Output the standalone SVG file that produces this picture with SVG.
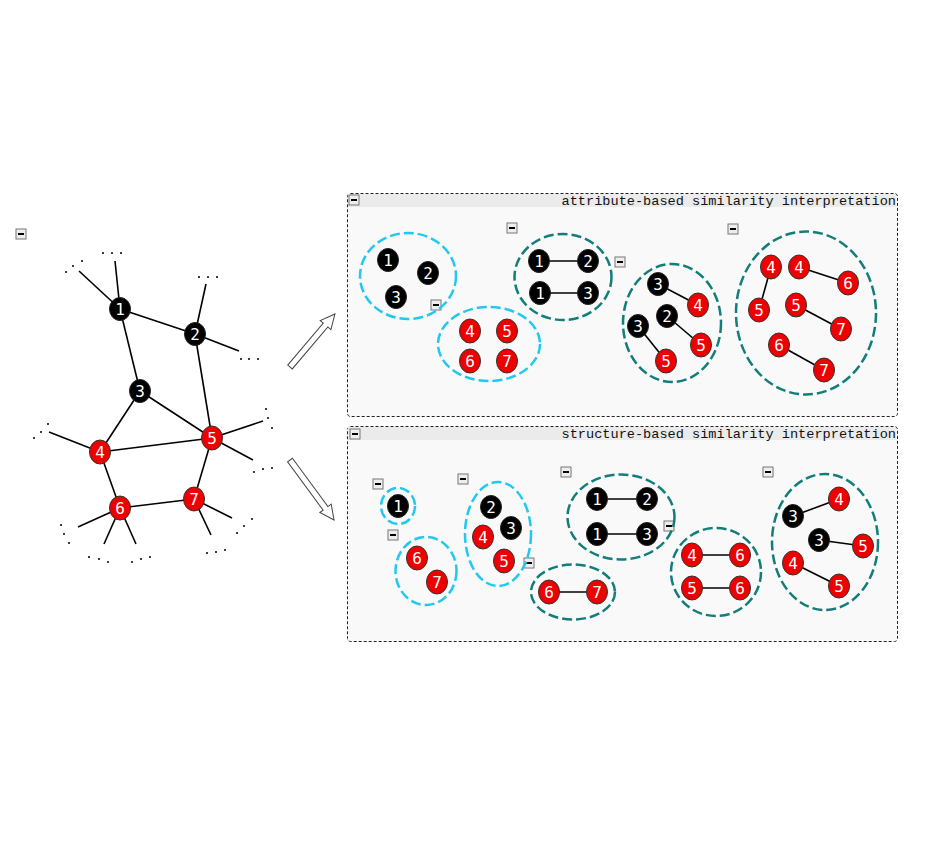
<svg xmlns="http://www.w3.org/2000/svg" width="944" height="844" viewBox="0 0 944 844">
<defs>
<style>
.b{fill:#000;stroke:#222;stroke-width:1}
.r{fill:#ee0000;stroke:#333;stroke-width:1}
.t{fill:#fff;font-family:"DejaVu Sans Mono",monospace;font-size:16px;text-anchor:middle;dominant-baseline:central}
.e{stroke:#000;stroke-width:1.6;fill:none}
.cy{fill:none;stroke:#22c8f0;stroke-width:2.5;stroke-dasharray:10 4}
.tl{fill:none;stroke:#137d7a;stroke-width:2.5;stroke-dasharray:10 4}
.panel{fill:#f9f9f9;stroke:#222;stroke-width:1;stroke-dasharray:3 2}
.bar{fill:#ebebeb}
.title{font-family:"Liberation Mono",monospace;font-size:13.6px;fill:#111;text-anchor:end}
.arrow{fill:#fff;stroke:#444;stroke-width:1}
.dot{fill:#000}
</style>
<g id="mi">
<rect x="-5" y="-5" width="10" height="10" fill="#eee" stroke="#777" stroke-width="1"/>
<rect x="-3" y="-1" width="6" height="2" fill="#000"/>
</g>
</defs>
<rect width="944" height="844" fill="#fff"/>

<!-- panels -->
<g id="panel-attr">
<rect class="panel" x="347.5" y="193.5" width="550" height="223" rx="3"/>
<rect class="bar" x="348" y="194" width="548" height="13"/>
<text class="title" x="896" y="204.5">attribute-based similarity interpretation</text>
</g>
<g id="panel-struct">
<rect class="panel" x="347.5" y="426.5" width="550" height="215" rx="3"/>
<rect class="bar" x="348" y="427" width="548" height="13"/>
<text class="title" x="896" y="437.5">structure-based similarity interpretation</text>
</g>

<!-- minus icons -->
<g id="icons">
<use href="#mi" x="21" y="234"/>
<use href="#mi" x="354" y="200"/>
<use href="#mi" x="512" y="228"/>
<use href="#mi" x="436" y="305"/>
<use href="#mi" x="620" y="262"/>
<use href="#mi" x="733" y="229"/>
<use href="#mi" x="355" y="434"/>
<use href="#mi" x="378" y="484"/>
<use href="#mi" x="393" y="535"/>
<use href="#mi" x="463" y="479"/>
<use href="#mi" x="529" y="563"/>
<use href="#mi" x="566" y="472"/>
<use href="#mi" x="669" y="526"/>
<use href="#mi" x="768" y="472"/>
</g>

<!-- arrows -->
<g id="arrows">
<polygon class="arrow" transform="translate(290,367) rotate(-49.7)" points="0,-3 55,-3 55,-7 69.5,0 55,7 55,3 0,3"/>
<polygon class="arrow" transform="translate(290,460) rotate(53.7)" points="0,-3 60,-3 60,-7 74.4,0 60,7 60,3 0,3"/>
</g>

<!-- cluster ellipses -->
<g id="clusters">
<ellipse class="cy" cx="408" cy="276" rx="48" ry="43"/>
<ellipse class="cy" cx="489" cy="344" rx="51" ry="37"/>
<ellipse class="tl" cx="563" cy="277" rx="48.5" ry="43"/>
<ellipse class="tl" cx="672" cy="323" rx="49" ry="59"/>
<ellipse class="tl" cx="806" cy="313" rx="70" ry="81.5"/>
<ellipse class="cy" cx="398" cy="506" rx="17" ry="18"/>
<ellipse class="cy" cx="426" cy="571" rx="30.5" ry="34"/>
<ellipse class="cy" cx="498" cy="534" rx="33" ry="52"/>
<ellipse class="tl" cx="573" cy="592" rx="42" ry="27.5"/>
<ellipse class="tl" cx="621" cy="517" rx="53.5" ry="42.5"/>
<ellipse class="tl" cx="716" cy="572" rx="45" ry="44"/>
<ellipse class="tl" cx="825" cy="542" rx="53" ry="68"/>
</g>

<!-- connectors -->
<g id="connectors">
<!-- main graph -->
<line class="e" x1="120" y1="309" x2="195" y2="334"/>
<line class="e" x1="120" y1="309" x2="140" y2="391"/>
<line class="e" x1="195" y1="334" x2="212" y2="438"/>
<line class="e" x1="140" y1="391" x2="100" y2="452"/>
<line class="e" x1="140" y1="391" x2="212" y2="438"/>
<line class="e" x1="100" y1="452" x2="212" y2="438"/>
<line class="e" x1="100" y1="452" x2="120" y2="508"/>
<line class="e" x1="212" y1="438" x2="194" y2="499"/>
<line class="e" x1="120" y1="508" x2="194" y2="499"/>
<!-- stubs -->
<line class="e" x1="120" y1="309" x2="115" y2="261"/>
<line class="e" x1="120" y1="309" x2="79" y2="271"/>
<line class="e" x1="195" y1="334" x2="206" y2="284"/>
<line class="e" x1="195" y1="334" x2="239" y2="351"/>
<line class="e" x1="100" y1="452" x2="49" y2="432"/>
<line class="e" x1="212" y1="438" x2="263" y2="421"/>
<line class="e" x1="212" y1="438" x2="253" y2="460"/>
<line class="e" x1="120" y1="508" x2="78" y2="527"/>
<line class="e" x1="120" y1="508" x2="104" y2="544"/>
<line class="e" x1="120" y1="508" x2="136" y2="544"/>
<line class="e" x1="194" y1="499" x2="211" y2="535"/>
<line class="e" x1="194" y1="499" x2="232" y2="518"/>
<!-- top panel -->
<line class="e" x1="539" y1="261" x2="588" y2="261"/>
<line class="e" x1="540" y1="293" x2="588" y2="293"/>
<line class="e" x1="658" y1="284" x2="698" y2="305"/>
<line class="e" x1="667" y1="316" x2="701" y2="345"/>
<line class="e" x1="638" y1="326" x2="666" y2="361"/>
<line class="e" x1="771" y1="267" x2="759" y2="310"/>
<line class="e" x1="799" y1="267" x2="848" y2="283"/>
<line class="e" x1="796" y1="305" x2="841" y2="329"/>
<line class="e" x1="779" y1="345" x2="824" y2="370"/>
<!-- bottom panel -->
<line class="e" x1="549" y1="592" x2="597" y2="592"/>
<line class="e" x1="597" y1="499" x2="647" y2="499"/>
<line class="e" x1="597" y1="534" x2="647" y2="534"/>
<line class="e" x1="692" y1="555" x2="740" y2="555"/>
<line class="e" x1="692" y1="588" x2="740" y2="588"/>
<line class="e" x1="793" y1="516" x2="839" y2="499"/>
<line class="e" x1="819" y1="540" x2="863" y2="546"/>
<line class="e" x1="793" y1="563" x2="839" y2="586"/>
</g>

<!-- ellipsis dots -->
<g id="dots">
<circle class="dot" cx="103" cy="253" r="1"/><circle class="dot" cx="112" cy="253" r="1"/><circle class="dot" cx="121" cy="253" r="1"/>
<circle class="dot" cx="66" cy="272" r="1"/><circle class="dot" cx="73" cy="266" r="1"/><circle class="dot" cx="82" cy="261" r="1"/>
<circle class="dot" cx="199" cy="277" r="1"/><circle class="dot" cx="208" cy="277" r="1"/><circle class="dot" cx="217" cy="277" r="1"/>
<circle class="dot" cx="241" cy="359" r="1"/><circle class="dot" cx="249" cy="359" r="1"/><circle class="dot" cx="258" cy="359" r="1"/>
<circle class="dot" cx="34" cy="438" r="1"/><circle class="dot" cx="41" cy="432" r="1"/><circle class="dot" cx="48" cy="424" r="1"/>
<circle class="dot" cx="266" cy="409" r="1"/><circle class="dot" cx="268" cy="418" r="1"/><circle class="dot" cx="272" cy="428" r="1"/>
<circle class="dot" cx="254" cy="472" r="1"/><circle class="dot" cx="263" cy="469" r="1"/><circle class="dot" cx="272" cy="468" r="1"/>
<circle class="dot" cx="61" cy="525" r="1"/><circle class="dot" cx="64" cy="534" r="1"/><circle class="dot" cx="69" cy="543" r="1"/>
<circle class="dot" cx="89" cy="557" r="1"/><circle class="dot" cx="99" cy="559" r="1"/><circle class="dot" cx="108" cy="562" r="1"/>
<circle class="dot" cx="132" cy="562" r="1"/><circle class="dot" cx="141" cy="559" r="1"/><circle class="dot" cx="150" cy="557" r="1"/>
<circle class="dot" cx="237" cy="533" r="1"/><circle class="dot" cx="244" cy="526" r="1"/><circle class="dot" cx="252" cy="519" r="1"/>
<circle class="dot" cx="207" cy="553" r="1"/><circle class="dot" cx="216" cy="552" r="1"/><circle class="dot" cx="225" cy="550" r="1"/>
</g>

<!-- main graph nodes -->
<g id="g-n1"><ellipse class="b" cx="120" cy="309" rx="10.5" ry="11.5"/><text class="t" x="120" y="309">1</text></g>
<g id="g-n2"><ellipse class="b" cx="195" cy="334" rx="10.5" ry="11.5"/><text class="t" x="195" y="334">2</text></g>
<g id="g-n3"><ellipse class="b" cx="140" cy="391" rx="10.5" ry="11.5"/><text class="t" x="140" y="391">3</text></g>
<g id="g-n4"><ellipse class="r" cx="100" cy="452" rx="10.5" ry="12"/><text class="t" x="100" y="452">4</text></g>
<g id="g-n5"><ellipse class="r" cx="212" cy="438" rx="10.5" ry="12"/><text class="t" x="212" y="438">5</text></g>
<g id="g-n6"><ellipse class="r" cx="120" cy="508" rx="10.5" ry="12"/><text class="t" x="120" y="508">6</text></g>
<g id="g-n7"><ellipse class="r" cx="194" cy="499" rx="10.5" ry="12"/><text class="t" x="194" y="499">7</text></g>

<!-- top panel nodes -->
<g id="a1-n1"><ellipse class="b" cx="388" cy="260" rx="10.5" ry="11.5"/><text class="t" x="388" y="260">1</text></g>
<g id="a1-n2"><ellipse class="b" cx="428" cy="273" rx="10.5" ry="11.5"/><text class="t" x="428" y="273">2</text></g>
<g id="a1-n3"><ellipse class="b" cx="396" cy="297" rx="10.5" ry="11.5"/><text class="t" x="396" y="297">3</text></g>
<g id="a2-n4"><ellipse class="r" cx="470" cy="331" rx="10.5" ry="12"/><text class="t" x="470" y="331">4</text></g>
<g id="a2-n5"><ellipse class="r" cx="507" cy="331" rx="10.5" ry="12"/><text class="t" x="507" y="331">5</text></g>
<g id="a2-n6"><ellipse class="r" cx="470" cy="361" rx="10.5" ry="12"/><text class="t" x="470" y="361">6</text></g>
<g id="a2-n7"><ellipse class="r" cx="507" cy="361" rx="10.5" ry="12"/><text class="t" x="507" y="361">7</text></g>
<g id="a3-n1a"><ellipse class="b" cx="539" cy="261" rx="10.5" ry="11.5"/><text class="t" x="539" y="261">1</text></g>
<g id="a3-n2"><ellipse class="b" cx="588" cy="261" rx="10.5" ry="11.5"/><text class="t" x="588" y="261">2</text></g>
<g id="a3-n1b"><ellipse class="b" cx="540" cy="293" rx="10.5" ry="11.5"/><text class="t" x="540" y="293">1</text></g>
<g id="a3-n3"><ellipse class="b" cx="588" cy="293" rx="10.5" ry="11.5"/><text class="t" x="588" y="293">3</text></g>
<g id="a4-n3a"><ellipse class="b" cx="658" cy="284" rx="10.5" ry="11.5"/><text class="t" x="658" y="284">3</text></g>
<g id="a4-n4"><ellipse class="r" cx="698" cy="305" rx="10.5" ry="12"/><text class="t" x="698" y="305">4</text></g>
<g id="a4-n2"><ellipse class="b" cx="667" cy="316" rx="10.5" ry="11.5"/><text class="t" x="667" y="316">2</text></g>
<g id="a4-n3b"><ellipse class="b" cx="638" cy="326" rx="10.5" ry="11.5"/><text class="t" x="638" y="326">3</text></g>
<g id="a4-n5a"><ellipse class="r" cx="701" cy="345" rx="10.5" ry="12"/><text class="t" x="701" y="345">5</text></g>
<g id="a4-n5b"><ellipse class="r" cx="666" cy="361" rx="10.5" ry="12"/><text class="t" x="666" y="361">5</text></g>
<g id="a5-n4a"><ellipse class="r" cx="771" cy="267" rx="10.5" ry="12"/><text class="t" x="771" y="267">4</text></g>
<g id="a5-n4b"><ellipse class="r" cx="799" cy="267" rx="10.5" ry="12"/><text class="t" x="799" y="267">4</text></g>
<g id="a5-n6a"><ellipse class="r" cx="848" cy="283" rx="10.5" ry="12"/><text class="t" x="848" y="283">6</text></g>
<g id="a5-n5a"><ellipse class="r" cx="759" cy="310" rx="10.5" ry="12"/><text class="t" x="759" y="310">5</text></g>
<g id="a5-n5b"><ellipse class="r" cx="796" cy="305" rx="10.5" ry="12"/><text class="t" x="796" y="305">5</text></g>
<g id="a5-n7a"><ellipse class="r" cx="841" cy="329" rx="10.5" ry="12"/><text class="t" x="841" y="329">7</text></g>
<g id="a5-n6b"><ellipse class="r" cx="779" cy="345" rx="10.5" ry="12"/><text class="t" x="779" y="345">6</text></g>
<g id="a5-n7b"><ellipse class="r" cx="824" cy="370" rx="10.5" ry="12"/><text class="t" x="824" y="370">7</text></g>

<!-- bottom panel nodes -->
<g id="b1-n1"><ellipse class="b" cx="398" cy="506" rx="10.5" ry="11.5"/><text class="t" x="398" y="506">1</text></g>
<g id="b2-n6"><ellipse class="r" cx="417" cy="558" rx="10.5" ry="12"/><text class="t" x="417" y="558">6</text></g>
<g id="b2-n7"><ellipse class="r" cx="437" cy="582" rx="10.5" ry="12"/><text class="t" x="437" y="582">7</text></g>
<g id="b3-n2"><ellipse class="b" cx="491" cy="507" rx="10.5" ry="11.5"/><text class="t" x="491" y="507">2</text></g>
<g id="b3-n3"><ellipse class="b" cx="511" cy="528" rx="10.5" ry="11.5"/><text class="t" x="511" y="528">3</text></g>
<g id="b3-n4"><ellipse class="r" cx="483" cy="537" rx="10.5" ry="12"/><text class="t" x="483" y="537">4</text></g>
<g id="b3-n5"><ellipse class="r" cx="504" cy="561" rx="10.5" ry="12"/><text class="t" x="504" y="561">5</text></g>
<g id="b4-n6"><ellipse class="r" cx="549" cy="592" rx="10.5" ry="12"/><text class="t" x="549" y="592">6</text></g>
<g id="b4-n7"><ellipse class="r" cx="597" cy="592" rx="10.5" ry="12"/><text class="t" x="597" y="592">7</text></g>
<g id="b5-n1a"><ellipse class="b" cx="597" cy="499" rx="10.5" ry="11.5"/><text class="t" x="597" y="499">1</text></g>
<g id="b5-n2"><ellipse class="b" cx="647" cy="499" rx="10.5" ry="11.5"/><text class="t" x="647" y="499">2</text></g>
<g id="b5-n1b"><ellipse class="b" cx="597" cy="534" rx="10.5" ry="11.5"/><text class="t" x="597" y="534">1</text></g>
<g id="b5-n3"><ellipse class="b" cx="647" cy="534" rx="10.5" ry="11.5"/><text class="t" x="647" y="534">3</text></g>
<g id="b6-n4"><ellipse class="r" cx="692" cy="555" rx="10.5" ry="12"/><text class="t" x="692" y="555">4</text></g>
<g id="b6-n6a"><ellipse class="r" cx="740" cy="555" rx="10.5" ry="12"/><text class="t" x="740" y="555">6</text></g>
<g id="b6-n5"><ellipse class="r" cx="692" cy="588" rx="10.5" ry="12"/><text class="t" x="692" y="588">5</text></g>
<g id="b6-n6b"><ellipse class="r" cx="740" cy="588" rx="10.5" ry="12"/><text class="t" x="740" y="588">6</text></g>
<g id="b7-n4a"><ellipse class="r" cx="839" cy="499" rx="10.5" ry="12"/><text class="t" x="839" y="499">4</text></g>
<g id="b7-n3a"><ellipse class="b" cx="793" cy="516" rx="10.5" ry="11.5"/><text class="t" x="793" y="516">3</text></g>
<g id="b7-n3b"><ellipse class="b" cx="819" cy="540" rx="10.5" ry="11.5"/><text class="t" x="819" y="540">3</text></g>
<g id="b7-n5a"><ellipse class="r" cx="863" cy="546" rx="10.5" ry="12"/><text class="t" x="863" y="546">5</text></g>
<g id="b7-n4b"><ellipse class="r" cx="793" cy="563" rx="10.5" ry="12"/><text class="t" x="793" y="563">4</text></g>
<g id="b7-n5b"><ellipse class="r" cx="839" cy="586" rx="10.5" ry="12"/><text class="t" x="839" y="586">5</text></g>
</svg>
